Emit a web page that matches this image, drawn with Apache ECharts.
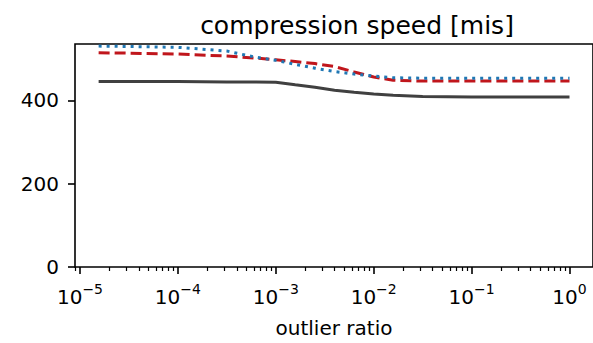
<!DOCTYPE html>
<html><head><meta charset="utf-8">
<script src="https://cdn.jsdelivr.net/npm/echarts@6/dist/echarts.min.js"></script>
<style>html,body{margin:0;padding:0;background:#fff}#c{width:593px;height:343px}</style>
</head><body><div id="c"></div>
<script>
// ---- data ----
const outlierRatio = [1.55e-5, 3.16e-5, 1e-4, 3.16e-4, 6.31e-4, 1e-3, 1.58e-3, 2.51e-3, 3.98e-3, 6.31e-3, 1e-2, 1.58e-2, 3.16e-2, 1e-1, 3.16e-1, 1];
const speedSolid  = [445, 445, 445, 444, 444, 443, 437, 431, 424, 419, 415, 412, 409, 408, 408, 408];
const speedDashed = [514, 513, 511, 506, 501, 497, 493, 488, 481, 468, 456, 448, 446, 446, 446, 446];
const speedDotted = [530, 529, 527, 518, 503, 496, 486, 477, 469, 463, 458, 454, 453, 453, 453, 453];
const xMajorTicks = [1e-5, 1e-4, 1e-3, 1e-2, 1e-1, 1];
const yTicks = [0, 200, 400];
const titleText = 'compression speed [mis]';
const xLabelText = 'outlier ratio';

// ---- build ----
const FONT = 'DejaVu Sans';
const xMin = -5.051, xMax = 0.24;
const lg = v => Math.log10(v);
const majorLog = xMajorTicks.map(lg);
const minorLog = [];
for (let n = -6; n <= 0; n++) for (let k = 2; k <= 9; k++) {
  const v = Math.log10(k) + n;
  if (v >= xMin && v <= xMax) minorLog.push(v);
}
const toPts = vals => outlierRatio.map((r, i) => [lg(r), vals[i]]);
function expLabel(v) {
  const e = Math.round(v);
  return '{b|10}{s|' + (e < 0 ? '\u2212' + (-e) : String(e)) + '}';
}

const chart = echarts.init(document.getElementById('c'), null, {renderer: 'svg'});
chart.setOption({
  backgroundColor: '#fff',
  animation: false,
  title: {
    text: titleText, left: 357, top: 13, textAlign: 'center', padding: 0,
    textStyle: {fontFamily: FONT, fontSize: 25, fontWeight: 'normal', color: '#000', lineHeight: 25}
  },
  grid: {left: 75, right: -2, top: 44, bottom: 65.5, show: true, borderColor: '#000', borderWidth: 1.6, backgroundColor: 'transparent'},
  xAxis: [{
    type: 'value', min: xMin, max: xMax,
    name: xLabelText, nameLocation: 'middle', nameGap: 51,
    nameTextStyle: {fontFamily: FONT, fontSize: 20, color: '#000', lineHeight: 20},
    axisLine: {show: false, onZero: false},
    splitLine: {show: false},
    axisTick: {show: true, inside: false, length: 7, lineStyle: {color: '#000', width: 1.6}, customValues: majorLog},
    axisLabel: {
      show: true, margin: 20, customValues: majorLog, formatter: expLabel,
      rich: {
        b: {fontFamily: FONT, fontSize: 20, lineHeight: 20, color: '#000', verticalAlign: 'bottom'},
        s: {fontFamily: FONT, fontSize: 14, lineHeight: 14, color: '#000', verticalAlign: 'bottom', padding: [0, 0, 11, 0]}
      }
    }
  }, {
    type: 'value', min: xMin, max: xMax, position: 'bottom',
    axisLine: {show: false, onZero: false}, splitLine: {show: false}, axisLabel: {show: false},
    axisTick: {show: true, inside: false, length: 4, lineStyle: {color: '#000', width: 1.2}, customValues: minorLog}
  }],
  yAxis: {
    type: 'value', min: 0, max: 535, position: 'left',
    axisLine: {show: false, onZero: false}, splitLine: {show: false},
    axisTick: {show: true, inside: false, length: 7, lineStyle: {color: '#000', width: 1.6}, customValues: yTicks},
    axisLabel: {fontFamily: FONT, fontSize: 20, color: '#000', margin: 16, customValues: yTicks}
  },
  series: [
    {type: 'line', name: 'solid', data: toPts(speedSolid), showSymbol: false, symbol: 'none',
     lineStyle: {color: '#404040', width: 3, cap: 'butt'}},
    {type: 'line', name: 'dashed', data: toPts(speedDashed), showSymbol: false, symbol: 'none',
     lineStyle: {color: '#c0161c', width: 3, type: [11, 5], cap: 'butt'}},
    {type: 'line', name: 'dotted', data: toPts(speedDotted), showSymbol: false, symbol: 'none',
     lineStyle: {color: '#1f77b4', width: 3, type: [3, 5], cap: 'butt'}}
  ]
});
</script></body></html>
